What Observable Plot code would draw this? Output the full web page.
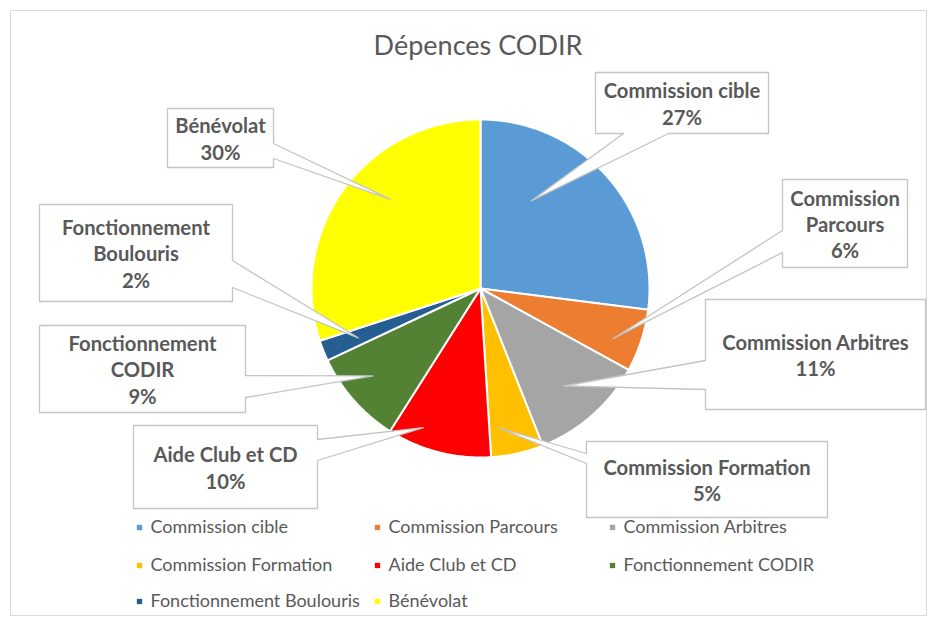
<!DOCTYPE html>
<html>
<head>
<meta charset="utf-8">
<script src="https://cdn.jsdelivr.net/npm/d3@7"></script>
<script src="https://cdn.jsdelivr.net/npm/@observablehq/plot@0.6"></script>
<style>
  html, body { margin: 0; padding: 0; background: #fff; }
</style>
</head>
<body>
<div id="chart"></div>
<script>
// ---- Data ----
const title = "Dépences CODIR";
const categories = ["Commission cible", "Commission Parcours", "Commission Arbitres", "Commission Formation",
  "Aide Club et CD", "Fonctionnement CODIR", "Fonctionnement Boulouris", "Bénévolat"];
const values = [27, 6, 11, 5, 10, 9, 2, 30];
const colors = ["#5B9BD5", "#ED7D31", "#A5A5A5", "#FFC000", "#FF0000", "#548235", "#255E91", "#FFFF00"];
const labelLines = [["Commission cible"], ["Commission", "Parcours"], ["Commission Arbitres"], ["Commission Formation"],
  ["Aide Club et CD"], ["Fonctionnement", "CODIR"], ["Fonctionnement", "Boulouris"], ["Bénévolat"]];

// ---- Layout (not data) ----
const W = 935, H = 621;
const pie = {cx: 480, cy: 288, r: 169};
// callout boxes: [x1, y1, x2, y2], side the pointer leaves from, pointer base, where the tip sits inside its slice
const callouts = [
  {box: [595, 72, 768, 133], side: "bottom", base: [623, 668], along: 0.31, radial: 0.60},
  {box: [782, 179, 907, 267], side: "left", base: [230, 252], along: 0.62, radial: 0.84},
  {box: [705, 299, 925, 409], side: "left", base: [360, 389], along: 0.52, radial: 0.76},
  {box: [586, 441, 827, 517], side: "left", base: [453, 463], along: 0.80, radial: 0.83},
  {box: [133, 425, 317, 508], side: "right", base: [439, 460], along: 0.72, radial: 0.89},
  {box: [39, 325, 245, 412], side: "right", base: [375, 397], along: 0.57, radial: 0.82},
  {box: [39, 204, 232, 301], side: "right", base: [260, 287], along: 0.45, radial: 0.78},
  {box: [167, 108, 273, 167], side: "right", base: [143, 158], along: 0.58, radial: 0.75}
];
const legendCols = [139, 377, 612];
const legendRows = [527, 565, 601];

// ---- Geometry derived from the data ----
const total = d3.sum(values);
const arcs = d3.pie().sort(null).value(d => d)(values);
const polar = (a, rr) => [pie.cx + rr * Math.sin(a), pie.cy - rr * Math.cos(a)];

const slicePts = [];
arcs.forEach((a, i) => {
  const n = Math.max(4, Math.ceil((a.endAngle - a.startAngle) / (Math.PI / 360)));
  slicePts.push({id: i, x: pie.cx, y: pie.cy, color: colors[i]});
  for (let k = 0; k <= n; k++) {
    const t = a.startAngle + (a.endAngle - a.startAngle) * k / n;
    const [x, y] = polar(t, pie.r);
    slicePts.push({id: i, x, y, color: colors[i]});
  }
  slicePts.push({id: i, x: pie.cx, y: pie.cy, color: colors[i]});
});

const calloutPts = [];
const calloutText = [];
callouts.forEach((c, i) => {
  const a = arcs[i];
  const ang = a.startAngle + (a.endAngle - a.startAngle) * c.along;
  const tip = polar(ang, pie.r * c.radial);
  const [x1, y1, x2, y2] = c.box;
  let pts;
  if (c.side === "bottom") {
    pts = [[x1, y1], [x2, y1], [x2, y2], [c.base[1], y2], tip, [c.base[0], y2], [x1, y2], [x1, y1]];
  } else if (c.side === "left") {
    pts = [[x1, y1], [x2, y1], [x2, y2], [x1, y2], [x1, c.base[1]], tip, [x1, c.base[0]], [x1, y1]];
  } else {
    pts = [[x1, y1], [x2, y1], [x2, c.base[0]], tip, [x2, c.base[1]], [x2, y2], [x1, y2], [x1, y1]];
  }
  pts.forEach(([x, y]) => calloutPts.push({id: i, x, y}));
  const pct = Math.round(values[i] / total * 100) + "%";
  calloutText.push({x: (x1 + x2) / 2, y: (y1 + y2) / 2, text: [...labelLines[i], pct].join("\n")});
});

const legendItems = categories.map((c, i) => ({
  name: c, color: colors[i],
  x: legendCols[i % 3], y: legendRows[Math.floor(i / 3)]
}));

const chart = Plot.plot({
  width: W, height: H,
  margin: 0,
  x: {domain: [0, W], range: [0, W], axis: null},
  y: {domain: [0, H], range: [0, H], axis: null},
  color: {type: "identity"},
  style: {fontFamily: "Lato, 'Open Sans', sans-serif", background: "#fff"},
  marks: [
    Plot.frame({stroke: "#d9d9d9", insetLeft: 10, insetRight: 9, insetTop: 10, insetBottom: 6}),
    Plot.text([title], {x: W / 2 + 10, y: 46, text: d => d, fontSize: 27, fill: "#595959"}),
    Plot.line(slicePts, {x: "x", y: "y", z: "id", fill: "color", stroke: "#fff", strokeWidth: 2, curve: "linear", strokeLinejoin: "round"}),
    Plot.line(calloutPts, {x: "x", y: "y", z: "id", fill: "#fff", stroke: "#c4c4c4", strokeWidth: 1.3, curve: "linear"}),
    Plot.text(calloutText, {x: "x", y: "y", text: "text", fontSize: 20.2, fontWeight: "bold", fill: "#595959", lineHeight: 1.3, textAnchor: "middle"}),
    Plot.dot(legendItems, {x: "x", y: "y", fill: "color", symbol: "square", r: 3, stroke: null}),
    Plot.text(legendItems, {x: d => d.x + 11, y: "y", text: "name", fill: "#595959", fontSize: 18, textAnchor: "start"})
  ]
});
document.getElementById("chart").appendChild(chart);
</script>
</body>
</html>
